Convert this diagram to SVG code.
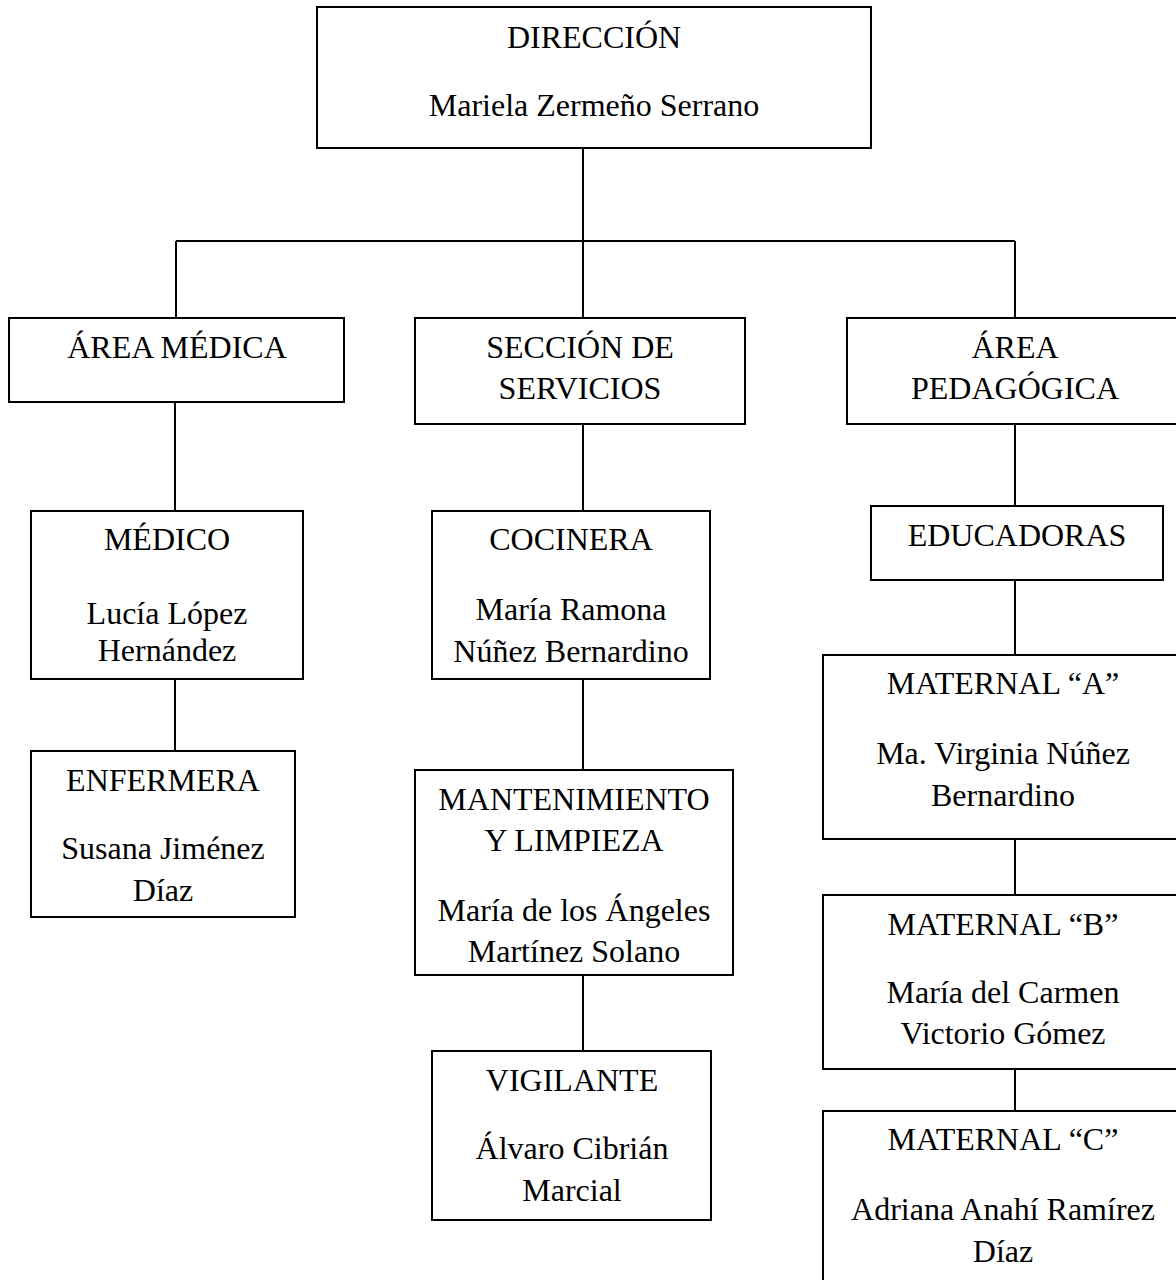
<svg xmlns="http://www.w3.org/2000/svg" width="1176" height="1280" viewBox="0 0 1176 1280">
<style>
.box{fill:#fff;stroke:#000;stroke-width:2}
.t{font-family:"Liberation Serif","Times New Roman",serif;font-size:32px;fill:#000;text-anchor:middle}
.c{stroke:#000;stroke-width:2;fill:none}
</style>
<rect width="1176" height="1280" fill="#fff"/>
<g id="connectors">
<path class="c" d="M583 148V241M176 241H1015M176 241V318M583 241V318M1015 241V318"/>
<path class="c" d="M175 402V511M175 679V751"/>
<path class="c" d="M583 424V511M583 679V770M583 975V1051"/>
<path class="c" d="M1015 424V506M1015 580V655M1015 839V895M1015 1069V1111"/>
</g>
<g id="direccion">
<rect class="box" x="317" y="7" width="554" height="141"/>
<text class="t" x="594" y="48">DIRECCIÓN</text>
<text class="t" x="594" y="116">Mariela Zermeño Serrano</text>
</g>
<g id="area-medica">
<rect class="box" x="9" y="318" width="335" height="84"/>
<text class="t" x="177" y="358">ÁREA MÉDICA</text>
</g>
<g id="seccion-servicios">
<rect class="box" x="415" y="318" width="330" height="106"/>
<text class="t" x="580" y="358">SECCIÓN DE</text>
<text class="t" x="580" y="399">SERVICIOS</text>
</g>
<g id="area-pedagogica">
<rect class="box" x="847" y="318" width="336" height="106"/>
<text class="t" x="1015" y="358">ÁREA</text>
<text class="t" x="1015" y="399">PEDAGÓGICA</text>
</g>
<g id="medico">
<rect class="box" x="31" y="511" width="272" height="168"/>
<text class="t" x="167" y="550">MÉDICO</text>
<text class="t" x="167" y="624">Lucía López</text>
<text class="t" x="167" y="661">Hernández</text>
</g>
<g id="enfermera">
<rect class="box" x="31" y="751" width="264" height="166"/>
<text class="t" x="163" y="791">ENFERMERA</text>
<text class="t" x="163" y="859">Susana Jiménez</text>
<text class="t" x="163" y="901">Díaz</text>
</g>
<g id="cocinera">
<rect class="box" x="432" y="511" width="278" height="168"/>
<text class="t" x="571" y="550">COCINERA</text>
<text class="t" x="571" y="620">María Ramona</text>
<text class="t" x="571" y="662">Núñez Bernardino</text>
</g>
<g id="mantenimiento">
<rect class="box" x="415" y="770" width="318" height="205"/>
<text class="t" x="574" y="810">MANTENIMIENTO</text>
<text class="t" x="574" y="851">Y LIMPIEZA</text>
<text class="t" x="574" y="921">María de los Ángeles</text>
<text class="t" x="574" y="962">Martínez Solano</text>
</g>
<g id="vigilante">
<rect class="box" x="432" y="1051" width="279" height="169"/>
<text class="t" x="572" y="1091">VIGILANTE</text>
<text class="t" x="572" y="1159">Álvaro Cibrián</text>
<text class="t" x="572" y="1201">Marcial</text>
</g>
<g id="educadoras">
<rect class="box" x="871" y="506" width="292" height="74"/>
<text class="t" x="1017" y="546">EDUCADORAS</text>
</g>
<g id="maternal-a">
<rect class="box" x="823" y="655" width="360" height="184"/>
<text class="t" x="1003" y="694">MATERNAL “A”</text>
<text class="t" x="1003" y="764">Ma. Virginia Núñez</text>
<text class="t" x="1003" y="806">Bernardino</text>
</g>
<g id="maternal-b">
<rect class="box" x="823" y="895" width="360" height="174"/>
<text class="t" x="1003" y="935">MATERNAL “B”</text>
<text class="t" x="1003" y="1003">María del Carmen</text>
<text class="t" x="1003" y="1044">Victorio Gómez</text>
</g>
<g id="maternal-c">
<rect class="box" x="823" y="1111" width="360" height="190"/>
<text class="t" x="1003" y="1150">MATERNAL “C”</text>
<text class="t" x="1003" y="1220">Adriana Anahí Ramírez</text>
<text class="t" x="1003" y="1262">Díaz</text>
</g>
</svg>
